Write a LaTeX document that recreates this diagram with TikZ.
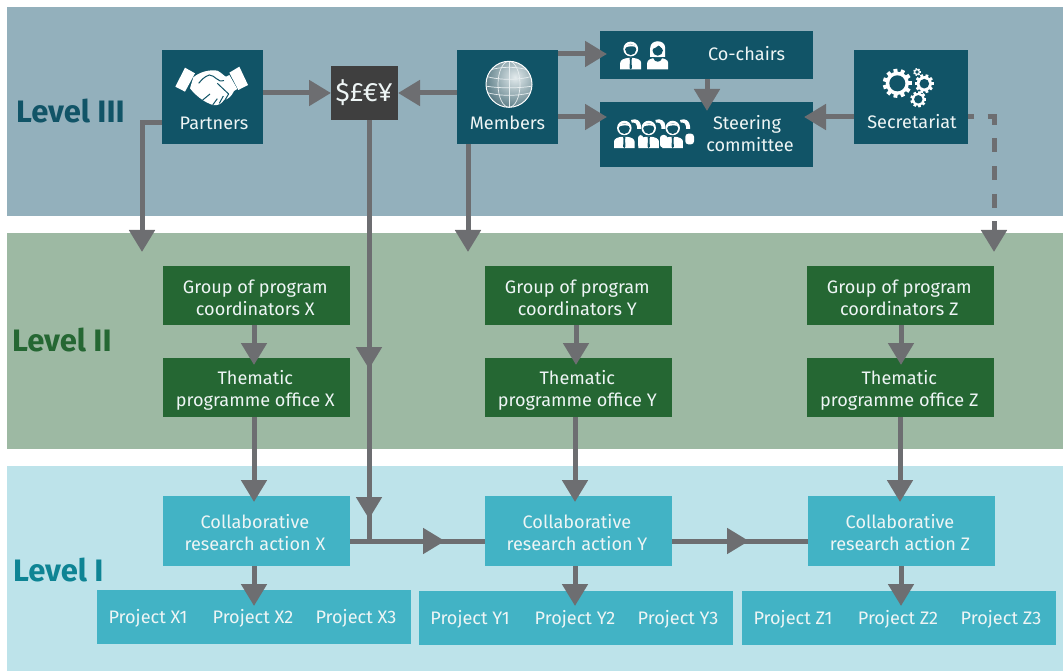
\documentclass[tikz,border=0pt]{standalone}
\usepackage{fontspec}
\setmainfont{Fira Sans}
\usetikzlibrary{arrows.meta}
\definecolor{bandA}{HTML}{93B0BC}
\definecolor{bandB}{HTML}{9DB9A3}
\definecolor{bandC}{HTML}{BDE3EA}
\definecolor{boxA}{HTML}{115467}
\definecolor{boxB}{HTML}{256733}
\definecolor{boxC}{HTML}{42B3C5}
\definecolor{boxD}{HTML}{3F3F3F}
\definecolor{lineC}{HTML}{6D6E71}
\definecolor{txtC}{HTML}{EEF5F5}
\definecolor{lvlC}{HTML}{0E8494}
\tikzset{
  band/.style={fill=#1,draw=none},
  bx/.style={fill=#1,draw=none,inner sep=0pt,outer sep=0pt},
  lbl/.style={inner sep=0pt,text=txtC,align=center,font=\fontsize{18.1}{22}\selectfont},
  lvl/.style={inner sep=0pt,anchor=west,text=#1,font=\fontsize{31}{34}\selectfont\bfseries},
  conn/.style={draw=lineC,line width=5pt},
  head/.style={conn,-{Triangle[length=22pt,width=25pt,color=lineC]}},
  ico/.style={fill=white,draw=none}
}
% \bxn{colour}{name}{x0}{y0}{x1}{y1}{text dx}{text dy}{text}
\newcommand{\bxn}[9]{%
  \pgfmathsetlengthmacro{\bw}{(#5-#3)*1pt}\pgfmathsetlengthmacro{\bh}{(#6-#4)*1pt}%
  \pgfmathsetmacro{\bcx}{(#3+#5)/2}\pgfmathsetmacro{\bcy}{(#4+#6)/2}%
  \node[bx=#1,minimum width=\bw,minimum height=\bh] (#2) at (\bcx,\bcy) {};
  \node[lbl] (#2t) at (\bcx+#7,\bcy+#8) {#9};}
\newcommand{\bxe}[6]{%
  \pgfmathsetlengthmacro{\bw}{(#5-#3)*1pt}\pgfmathsetlengthmacro{\bh}{(#6-#4)*1pt}%
  \pgfmathsetmacro{\bcx}{(#3+#5)/2}\pgfmathsetmacro{\bcy}{(#4+#6)/2}%
  \node[bx=#1,minimum width=\bw,minimum height=\bh] (#2) at (\bcx,\bcy) {};}
\newcommand{\gearic}[5]{% x y outer hole teeth
  \begin{scope}[shift={(#1,#2)}]
    \fill[white] (0,0) circle ({#3*0.8});
    \foreach \a in {1,...,#5}{
      \pgfmathsetmacro{\ang}{\a*360/#5}
      \fill[white,rotate=\ang] ({#3*0.7},{-#3*1.5/#5}) rectangle ({#3},{#3*1.5/#5});
    }
    \fill[boxA] (0,0) circle (#4);
  \end{scope}}
\newcommand{\manic}[3]{% x y of head centre, in px; scale
  \begin{scope}[shift={(#1,#2)},scale=#3]
    \fill[white] (-10.5,20.5) -- (-10.5,14) .. controls (-10.5,11) and (-7,9.5) .. (-3,9) -- (3,9) .. controls (7,9.5) and (10.5,11) .. (10.5,14) -- (10.5,20.5) -- cycle;
    \fill[boxA] (-1.2,9) -- (1.2,9) -- (0.8,12) -- (1.2,19) -- (0,20.5) -- (-1.2,19) -- (-0.8,12) -- cycle;
    \fill[white] (0,0) circle (7.4);
    \fill[boxA] (0,0.5) circle (5.6);
    \fill[white] (-6.5,-1) .. controls (-5,-5) and (3,-7) .. (6.3,-1.5) .. controls (3,-3.2) and (-2,-3.2) .. (-6.5,-1) -- cycle;
  \end{scope}}
\newcommand{\womanic}[2]{%
  \begin{scope}[shift={(#1,#2)}]
    \fill[white] (-10.5,20.5) -- (-10.5,14) .. controls (-10.5,11) and (-7,9.5) .. (-3,9) -- (3,9) .. controls (7,9.5) and (10.5,11) .. (10.5,14) -- (10.5,20.5) -- cycle;
    \fill[boxA] (-4.5,9) .. controls (-3,14) and (3,14) .. (4.5,9) -- cycle;
    \fill[white] (-7.5,8) -- (-7.5,-1) .. controls (-7.5,-10) and (7.5,-10) .. (7.5,-1) -- (7.5,8) -- cycle;
    \fill[boxA] (0,1.5) circle (5.2);
    \fill[white] (-5.5,0) .. controls (-3,-1) and (0,-2) .. (1,-4) .. controls (2.5,-2) and (4,-1) .. (5.5,0) -- (5,-5) -- (-5,-5) -- cycle;
  \end{scope}}
\begin{document}
\begin{tikzpicture}[x=1pt,y=-1pt]
\useasboundingbox (0,0) rectangle (1063,671);
% bands
\fill[band=bandA] (7,7) rectangle (1063,216);
\fill[band=bandB] (7,233) rectangle (1063,449);
\fill[band=bandC] (7,466) rectangle (1063,671);
\node[lvl=boxA] (l3) at (16,111) {Level III};
\node[lvl=boxB] (l2) at (12,340) {Level II};
\node[lvl=lvlC] (l1) at (13,569.5) {Level I};
% Level III boxes
\bxe{boxA}{partners}{162}{50}{263}{144}
\bxe{boxD}{cur}{331}{66}{398}{120}
\bxe{boxA}{members}{457}{50}{558}{144}
\bxe{boxA}{cochairs}{600}{31}{813}{79}
\bxe{boxA}{steering}{600}{102}{813}{167}
\bxe{boxA}{secret}{854}{50}{968}{144}
\node[lbl] (tpartners) at (214,123) {Partners};
\node[lbl,font=\fontsize{26.5}{30}\selectfont] (tcur) at (364,93) {\$£€¥};
\node[lbl] (tmembers) at (507.5,123) {Members};
\node[lbl] (tcochairs) at (746.5,54) {Co-chairs};
\node[lbl] (tsteering) at (750,134) {Steering\kern6pt\\committee};
\node[lbl] (tsecret) at (912,122) {Secretariat};
% Level II, I boxes
\bxn{boxB}{gx}{163}{266}{350}{325}{-1.2}{2.6}{Group of program\\coordinators X}
\bxn{boxB}{gy}{485}{266}{672}{325}{-1.2}{2.6}{Group of program\\coordinators Y}
\bxn{boxB}{gz}{807}{266}{994}{325}{-1.2}{2.6}{Group of program\\coordinators Z}
\bxn{boxB}{tx}{163}{358}{350}{417}{-1.2}{2.6}{Thematic\\programme office X}
\bxn{boxB}{ty}{485}{358}{672}{417}{-1.2}{2.6}{Thematic\\programme office Y}
\bxn{boxB}{tz}{807}{358}{994}{417}{-1.2}{2.6}{Thematic\\programme office Z}
\bxn{boxC}{cx}{163}{496}{350}{566}{-1.5}{1.6}{Collaborative\\research action X}
\bxn{boxC}{cy}{485}{496}{672}{566}{-1.5}{1.6}{Collaborative\\research action Y}
\bxn{boxC}{cz}{808}{496}{995}{566}{-1.5}{1.6}{Collaborative\\research action Z}
\bxe{boxC}{px}{97}{590}{411}{644}
\bxe{boxC}{py}{419}{591}{733}{645}
\bxe{boxC}{pz}{742}{591}{1056}{645}
\node[lbl] (px1) at (148,618) {Project X1};
\node[lbl] (px2) at (253,618) {Project X2};
\node[lbl] (px3) at (356,618) {Project X3};
\node[lbl] (py1) at (470,619) {Project Y1};
\node[lbl] (py2) at (575,619) {Project Y2};
\node[lbl] (py3) at (678,619) {Project Y3};
\node[lbl] (pz1) at (793,619) {Project Z1};
\node[lbl] (pz2) at (898,619) {Project Z2};
\node[lbl] (pz3) at (1001,619) {Project Z3};
% helper coordinates
\coordinate (a3l) at (142,252);
\coordinate (a3m) at (468,252);
\coordinate (a3r) at (994,252);
\coordinate (pcorner) at (142,123);
\coordinate (scorner) at (994,117);
\coordinate (v1) at (369,369);
\coordinate (v2) at (369,519);
\coordinate (jn) at (369,541);
\coordinate (m1) at (445,541);
\coordinate (m2) at (749,541);
\coordinate (tipco) at (607,54);
\coordinate (tipst) at (607,117);
% connectors
\draw[head] (partners.east |- cur.west) -- (cur.west);
\draw[head] (members.west |- cur.east) -- (cur.east);
\draw[head] (members.east |- tipco) -- (tipco);
\draw[head] (members.east |- tipst) -- (tipst);
\coordinate (cotip) at (707,111);
\draw[head] (cochairs.south -| cotip) -- (cotip);
\coordinate (setip) at (804,117);
\draw[head] (secret.west |- setip) -- (setip);
\draw[head] (partners.west |- pcorner) -- (pcorner) -- (a3l);
\draw[head] (members.south -| a3m) -- (a3m);
\draw[head,dash pattern=on 14pt off 13.7pt,dash phase=8pt] (secret.east |- scorner) -- (scorner) -- (a3r);
\draw[conn] (cur.south -| jn) -- (jn);
\draw[head] (cur.south -| v1) -- (v1);
\draw[head] (v1) -- (v2);
\draw[conn] (cx.east |- jn) -- (cy.west |- jn);
\draw[conn] (cy.east |- jn) -- (cz.west |- jn);
\draw[head] (cx.east |- jn) -- (m1);
\draw[head] (cy.east |- jn) -- (m2);
% vertical chains
\foreach \g/\t/\c/\p/\xa/\xb/\xc in {gx/tx/cx/px/254/254/254,gy/ty/cy/py/576/575/575,gz/tz/cz/pz/901/900/901}{
  \coordinate (t1) at (\xa,365);
  \coordinate (t2) at (\xb,502);
  \coordinate (t3) at (\xc,606);
  \draw[head] (\g.south -| t1) -- (t1);
  \draw[head] (\t.south -| t2) -- (t2);
  \draw[head] (\c.south -| t3) -- (t3);
}
% handshake icon
\begin{scope}[shift={(130,20)},scale=1/3]
  \fill[ico] (165,143) -- (195,160) -- (165,215) -- (136,200) -- cycle;
  \fill[ico] (328,140) -- (354,195) -- (325,210) -- (298,158) -- cycle;
  \fill[ico] (190,172) .. controls (210,155) and (240,148) .. (262,152) .. controls (275,158) and (282,168) .. (288,170) -- (298,165) -- (322,207) -- (312,213)
    .. controls (305,228) and (295,238) .. (282,240) .. controls (275,252) and (262,258) .. (248,255) .. controls (235,250) and (225,245) .. (218,240)
    .. controls (205,232) and (190,218) .. (180,205) -- cycle;
  \draw[boxA,line width=1pt] (282,182) .. controls (265,190) and (255,165) .. (238,165) .. controls (222,170) and (215,180) .. (206,190);
  \draw[boxA,line width=1pt] (218,240) -- (240,222);
  \draw[boxA,line width=1pt] (248,255) -- (262,236);
  \draw[boxA,line width=1pt] (268,250) -- (280,228);
  \draw[boxA,line width=1pt] (285,240) -- (296,222);
  \draw[boxA,line width=1pt] (296,222) -- (262,190);
\end{scope}
% globe icon
\begin{scope}[shift={(509,84.3)}]
  \begin{scope}
    \clip (0,0) circle (23);
    \shade[inner color=white!88!boxA,outer color=boxA!70!white!80!black] (6,-7) circle (36);
    \draw[white!90!boxA,line width=0.7pt] (0,-23) -- (0,23);
    \draw[white!90!boxA,line width=0.7pt] (0,0) ellipse (11 and 23);
    \draw[white!90!boxA,line width=0.7pt] (-23,-8) .. controls (-10,-4) and (10,-4) .. (23,-8);
    \draw[white!90!boxA,line width=0.7pt] (-23,8) .. controls (-10,12) and (10,12) .. (23,8);
    \draw[white!90!boxA,line width=0.7pt] (-20,-14) .. controls (-8,-18) and (8,-18) .. (20,-14);
    \draw[white!90!boxA,line width=0.7pt] (-22,2) .. controls (-10,4) and (10,4) .. (22,2);
  \end{scope}
  \draw[white,line width=1pt] (0,0) circle (23);
\end{scope}
% gears icon
\gearic{897.3}{83.3}{14.5}{8}{11}
\gearic{924.3}{83.7}{9.5}{4.8}{10}
\gearic{918.3}{99.3}{8}{4.2}{9}
\gearic{917}{72}{3.8}{1.9}{7}
% persons
\manic{630.7}{49}{1}
\womanic{657.7}{49}
\begin{scope}[shift={(610,35)},scale=1/3]
  \foreach \hx in {75,148,222}{
    \begin{scope}[shift={(\hx,268)}]
      \fill[white] (-12,-13) .. controls (4,-20) and (18,-10) .. (18,6) -- (18,14) -- (6,14) -- (6,6) .. controls (8,-2) and (0,-6) .. (-10,-5) -- cycle;
    \end{scope}
  }
  \fill[white,rounded corners=3pt] (226,296) rectangle (252,328);
  \fill[white,rounded corners=3pt] (84,300) rectangle (100,338);
  \fill[white,rounded corners=3pt] (150,300) rectangle (172,338);
\end{scope}
\manic{624.3}{128}{0.98}
\manic{648.7}{128}{0.98}
\manic{672.7}{128}{0.98}
\end{tikzpicture}
\end{document}
